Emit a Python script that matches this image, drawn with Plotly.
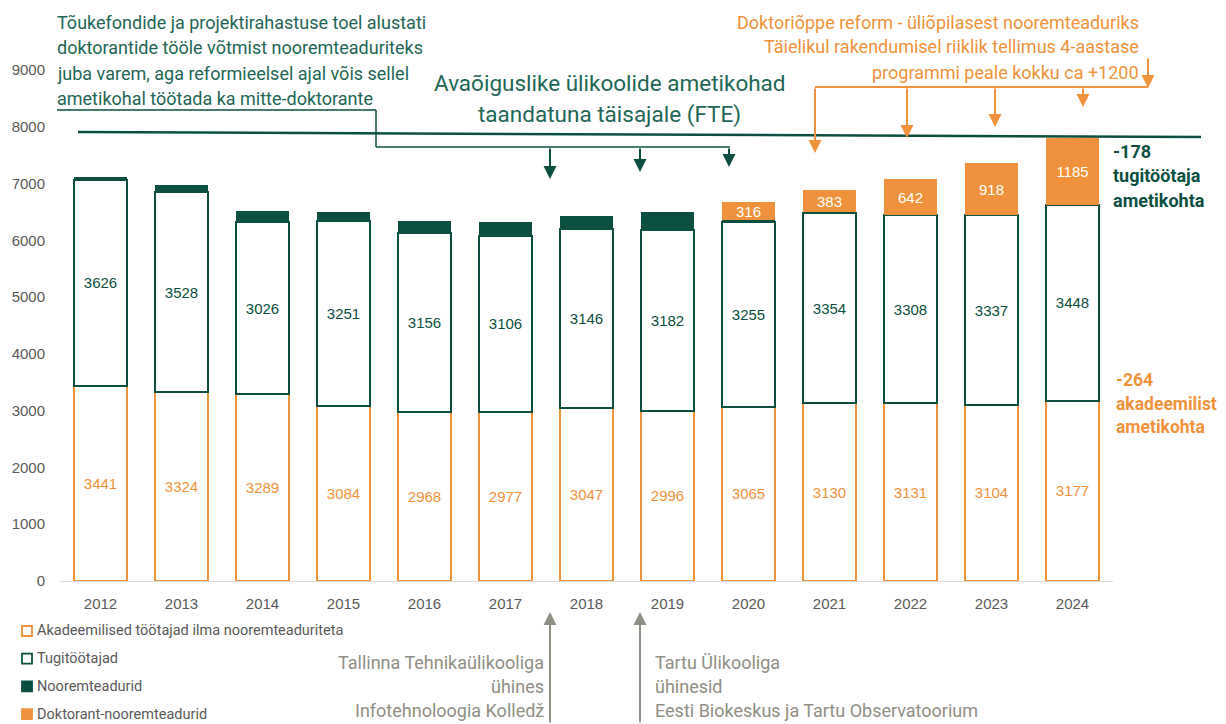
import plotly.graph_objects as go

years = ["2012", "2013", "2014", "2015", "2016", "2017", "2018", "2019", "2020", "2021", "2022", "2023", "2024"]
akadeemilised = [3441, 3324, 3289, 3084, 2968, 2977, 3047, 2996, 3065, 3130, 3131, 3104, 3177]
tugitootajad = [3626, 3528, 3026, 3251, 3156, 3106, 3146, 3182, 3255, 3354, 3308, 3337, 3448]
nooremteadurid = [35, 120, 185, 160, 205, 230, 230, 310, 35, 15, 0, 0, 0]
doktorant_nt = [None, None, None, None, None, None, None, None, 316, 383, 642, 918, 1185]

series_names = ["Akadeemilised töötajad ilma nooremteaduriteta", "Tugitöötajad",
                "Nooremteadurid", "Doktorant-nooremteadurid"]
y_ticks = [0, 1000, 2000, 3000, 4000, 5000, 6000, 7000, 8000, 9000]

title_lines = ["Avaõiguslike ülikoolide ametikohad", "taandatuna täisajale (FTE)"]
note_left = ["Tõukefondide ja projektirahastuse toel alustati",
             "doktorantide tööle võtmist nooremteaduriteks",
             "juba varem, aga reformieelsel ajal võis sellel",
             "ametikohal töötada ka mitte-doktorante"]
note_right = ["Doktoriõppe reform - üliõpilasest nooremteaduriks",
              "Täielikul rakendumisel riiklik tellimus 4-aastase",
              "programmi peale kokku ca +1200"]
note_ttu = ["Tallinna Tehnikaülikooliga", "ühines", "Infotehnoloogia Kolledž"]
note_tu = ["Tartu Ülikooliga", "ühinesid", "Eesti Biokeskus ja Tartu Observatoorium"]
delta_support = ["-178", "tugitöötaja", "ametikohta"]
delta_acad = ["-264", "akadeemilist", "ametikohta"]

ORANGE = "#F0923B"
GREEN = "#0B4F41"
TEXTGREEN = "#1E6655"
GRAY = "#8F8F84"
AXGRAY = "#595959"
FONT = "Roboto"

# page body has an 8px margin: the figure is drawn 8px smaller and the plot box stays in place
OFF = 8
W, H = 1226 - OFF, 724 - OFF
X0, X1, Y1, Y0 = 60, 1113, 70, 581          # plot box in window pixels
ML, MR, MT, MB = X0 - OFF, W - (X1 - OFF), Y1 - OFF, H - (Y0 - OFF)


def px(x):
    return (x - X0) / (X1 - X0)


def py(y):
    return (Y0 - y) / (Y0 - Y1)


fig = go.Figure()
fig.add_trace(go.Bar(
    x=years, y=akadeemilised, name=series_names[0],
    marker=dict(color="white", line=dict(color=ORANGE, width=2)),
    text=akadeemilised, textposition="inside", insidetextanchor="middle", textangle=0,
    textfont=dict(color=ORANGE, size=15, family="Liberation Sans"),
))
fig.add_trace(go.Bar(
    x=years, y=tugitootajad, name=series_names[1],
    marker=dict(color="white", line=dict(color=GREEN, width=2)),
    text=tugitootajad, textposition="inside", insidetextanchor="middle", textangle=0,
    textfont=dict(color=GREEN, size=15, family="Liberation Sans"),
))
fig.add_trace(go.Bar(
    x=years, y=nooremteadurid, name=series_names[2],
    marker=dict(color=GREEN, line=dict(color=GREEN, width=1)),
))
fig.add_trace(go.Bar(
    x=years, y=doktorant_nt, name=series_names[3],
    marker=dict(color=ORANGE, line=dict(color=ORANGE, width=0)),
    text=doktorant_nt, textposition="inside", insidetextanchor="middle", textangle=0,
    textfont=dict(color="white", size=15, family="Liberation Sans"),
))

annotations = []
shapes = []


def label(x, y, t, anchor, size, color):
    annotations.append(dict(x=px(x), y=py(y), xref="paper", yref="paper", text=t,
                            showarrow=False, xanchor=anchor, yanchor="middle",
                            font=dict(family=FONT, size=size, color=color)))


for i, t in enumerate(title_lines):
    label(610, 83 + i * 31, t, "center", 22.5, TEXTGREEN)
for i, t in enumerate(note_left):
    label(55, 23 + i * 25, t, "left", 18, TEXTGREEN)
for i, t in enumerate(note_right):
    label(1141, 22 + i * 25, t, "right", 18, ORANGE)
for i, t in enumerate(note_ttu):
    label(546, 662 + i * 24, t, "right", 18, GRAY)
for i, t in enumerate(note_tu):
    label(653, 662 + i * 24, t, "left", 18, GRAY)
for i, t in enumerate(delta_support):
    label(1111, 151 + i * 24.5, "<b>%s</b>" % t, "left", 18, GREEN)
for i, t in enumerate(delta_acad):
    label(1114, 380 + i * 23.5, "<b>%s</b>" % t, "left", 17.5, ORANGE)

# manual legend (markers + text)
legend_style = [("white", ORANGE), ("white", GREEN), (GREEN, GREEN), (ORANGE, ORANGE)]
for i, (name, (fillc, linec)) in enumerate(zip(series_names, legend_style)):
    yc = 631 + i * 27.7
    shapes.append(dict(type="rect", xref="paper", yref="paper",
                       x0=px(22), x1=px(32), y0=py(yc + 5), y1=py(yc - 5),
                       fillcolor=fillc, line=dict(color=linec, width=1.8)))
    label(35, yc, name, "left", 14.5, AXGRAY)


def arrow(x, ytip, ytail, color):
    annotations.append(dict(x=px(x), y=py(ytip), xref="paper", yref="paper", text="",
                            showarrow=True, ax=0, ay=ytail - ytip, axref="pixel", ayref="pixel",
                            arrowhead=2, arrowsize=1.3, arrowwidth=2, arrowcolor=color, standoff=0))


def line(xa, ya, xb, yb, color, width=2):
    shapes.append(dict(type="line", xref="paper", yref="paper", x0=px(xa), y0=py(ya),
                       x1=px(xb), y1=py(yb), line=dict(color=color, width=width)))


# green bracket
line(57, 110, 376, 110, GREEN, 1.5)
line(376, 110, 376, 147, GREEN, 1.5)
line(376, 147, 730, 147, GREEN, 1.5)
arrow(550, 179, 147, GREEN)
arrow(640, 172, 147, GREEN)
arrow(729, 167, 147, GREEN)
# long green line
line(78, 132, 1201, 137, GREEN, 2.5)
# orange bracket
line(815, 87, 1148, 87, ORANGE, 2)
arrow(1148, 88, 57, ORANGE)
arrow(815, 153, 87, ORANGE)
arrow(907, 138, 87, ORANGE)
arrow(995, 127, 87, ORANGE)
arrow(1083, 107, 87, ORANGE)
# gray arrows
arrow(550, 612, 724, GRAY)
arrow(640, 612, 724, GRAY)

fig.update_layout(
    width=W, height=H,
    barmode="stack", bargap=0.35,
    plot_bgcolor="white", paper_bgcolor="white",
    margin=dict(l=ML, r=MR, t=MT, b=MB, autoexpand=False),
    font=dict(family="Liberation Sans", color=AXGRAY),
    uniformtext=dict(minsize=15, mode="show"),
    showlegend=False,
    annotations=annotations,
    shapes=shapes,
)
fig.update_xaxes(type="category", range=[-0.5, 12.5], showgrid=False, showline=True,
                 linecolor="#D9D9D9", linewidth=1, ticks="", ticklabelstandoff=9,
                 tickfont=dict(size=15, color=AXGRAY, family="Liberation Sans"))
fig.update_yaxes(range=[0, 9000], tickvals=y_ticks, showgrid=False, showline=False, zeroline=False,
                 ticks="", ticklabelstandoff=14,
                 tickfont=dict(size=15, color=AXGRAY, family="Liberation Sans"))

fig.write_html("out.html")
